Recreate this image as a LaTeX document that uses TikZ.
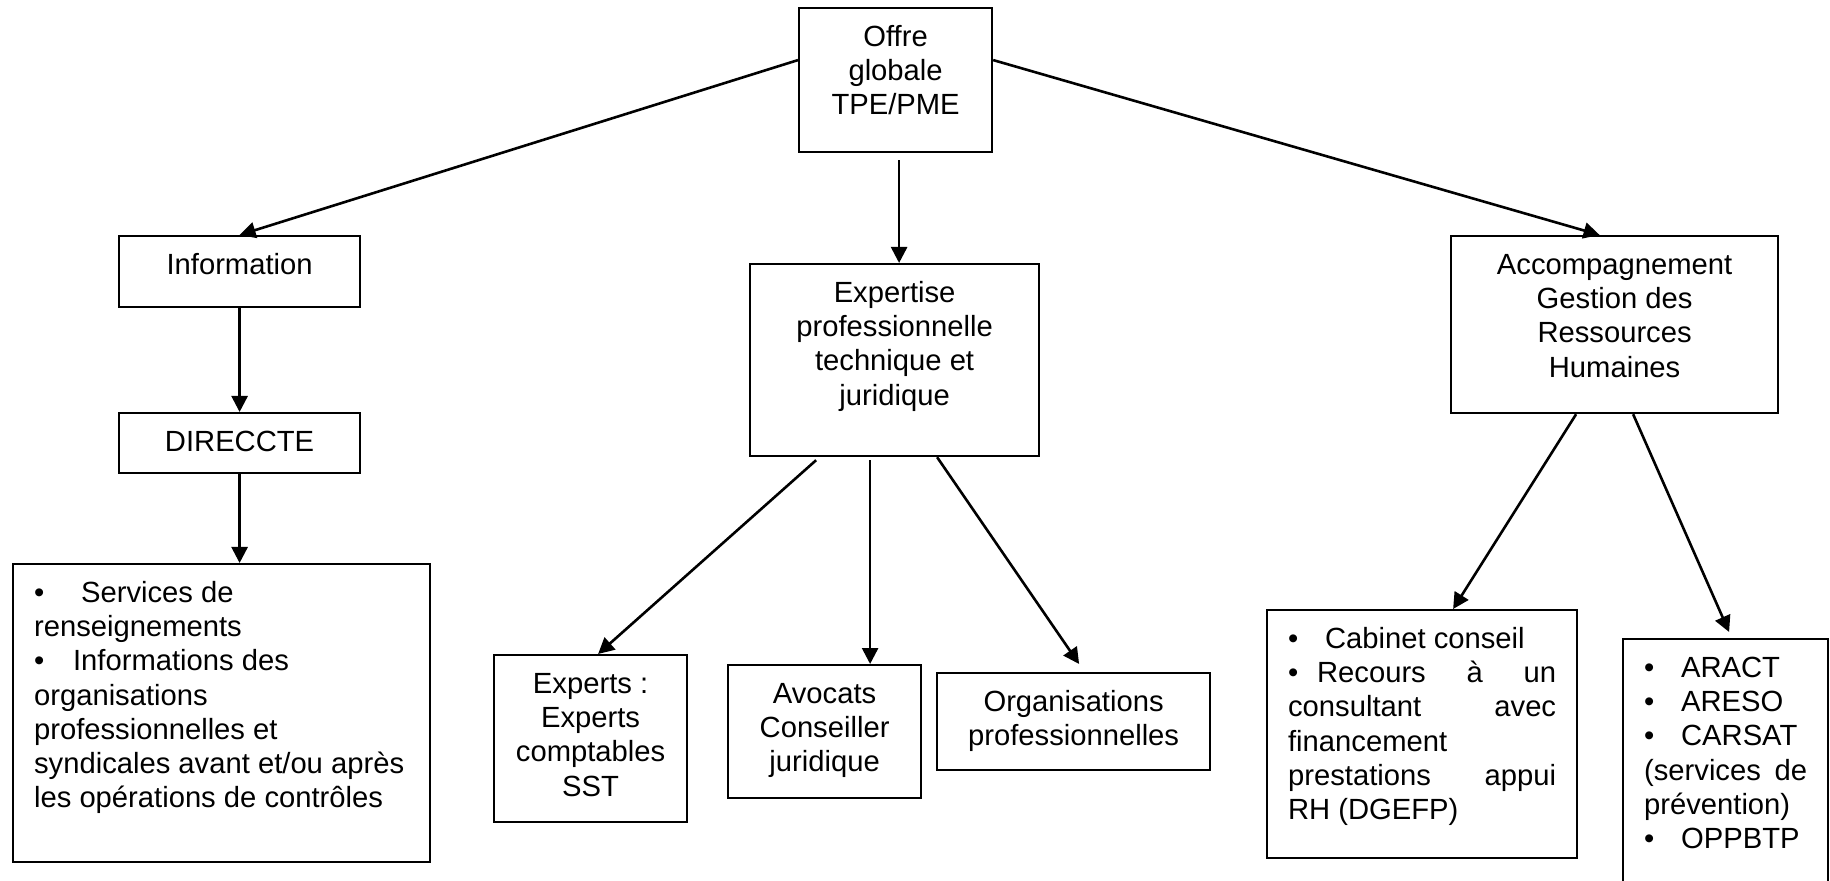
\documentclass[tikz,border=0pt]{standalone}
\usepackage{fontspec}
\setmainfont{Liberation Sans}
\usetikzlibrary{arrows.meta}
\tikzset{box/.style={draw=black,line width=1.1pt,inner sep=0pt,anchor=north west,font=\fontsize{14.6pt}{17.15pt}\selectfont}}
\tikzset{arr/.style={-{Triangle[length=8pt,width=8pt]},line width=1.3pt}}
\newcommand{\Ctext}[3]{\parbox[c][#2][t]{#1}{\centering\vspace*{7pt}\strut #3}}
\newcommand{\Ltext}[3]{\parbox[c][#2][t]{#1}{\leftskip=10.5pt\rightskip=10.5pt\vspace*{7pt}\strut #3}}
\newcommand{\bul}[1]{\makebox[#1][l]{\textbullet}}

\begin{document}
\begin{tikzpicture}[x=0.5pt,y=-0.5pt]
\useasboundingbox (0,0) rectangle (1830,881);
\clip (0,0) rectangle (1830,881);
% \draw[help lines,step=100] (0,0) grid (1830,881);
\node (offre) [box] at (798,7) {\Ctext{96.5pt}{72pt}{Offre\\globale\\TPE/PME}};
\node (info) [box] at (118,235) {\Ctext{120.5pt}{35.5pt}{Information}};
\node (direccte) [box] at (118,412) {\Ctext{120.5pt}{30pt}{DIRECCTE}};
\node (services) [box] at (12,563) {\Ltext{208.5pt}{149pt}{\bul{23.5pt}Services de\\renseignements\\\bul{19.5pt}Informations des\\organisations\\professionnelles et\\syndicales avant et/ou après\\les opérations de contrôles}};
\node (expertise) [box] at (749,263) {\Ctext{144.5pt}{96pt}{Expertise\\professionnelle\\technique et\\juridique}};
\node (experts) [box] at (493,654) {\Ctext{96.5pt}{83.5pt}{Experts :\\Experts\\comptables\\SST}};
\node (avocats) [box] at (727,664) {\Ctext{96.5pt}{66.5pt}{Avocats\\Conseiller\\juridique}};
\node (orgas) [box] at (936,672) {\Ctext{136.5pt}{48.5pt}{Organisations\\professionnelles}};
\node (accomp) [box] at (1450,235) {\Ctext{163.5pt}{88.5pt}{Accompagnement\\Gestion des\\Ressources\\Humaines}};
\node (cabinet) [box] at (1266,609) {\Ltext{155pt}{124pt}{\bul{18.5pt}Cabinet conseil\\\bul{14.5pt}Recours\hfill à\hfill un\\consultant\hfill avec\\financement\\prestations\hfill appui\\RH (DGEFP)}};
\node (aract) [box] at (1622,638) {\Ltext{102.5pt}{130pt}{\bul{18.5pt}ARACT\\\bul{18.5pt}ARESO\\\bul{18.5pt}CARSAT\\(services\hfill de\\prévention)\\\bul{18.5pt}OPPBTP}};
%
\path[arr] ([yshift=10pt]offre.west) edge (info.north);
\path[arr] ([yshift=10pt]offre.east) edge ([xshift=-7.5pt]accomp.north);
\path[arr] ([xshift=1.75pt,yshift=-3.5pt]offre.south) edge ([xshift=2.25pt]expertise.north);

\path[arr] (info.south) edge (direccte.north);
\path[arr] (direccte.south) edge (direccte.south |- services.north);

\path[arr] ([xshift=-39.25pt,yshift=-1.5pt]expertise.south) edge ([xshift=3.75pt]experts.north);
\path[arr] ([xshift=-12.25pt,yshift=-1.5pt]expertise.south) edge ([xshift=22.75pt]avocats.north);
\path[arr] ([xshift=21.25pt]expertise.south) edge ([xshift=2.75pt,yshift=4pt]orgas.north);

\path[arr] ([xshift=-19.25pt]accomp.south) edge ([xshift=15.5pt]cabinet.north);
\path[arr] ([xshift=9.25pt]accomp.south) edge ([xshift=1.75pt,yshift=3pt]aract.north);
\end{tikzpicture}
\end{document}
